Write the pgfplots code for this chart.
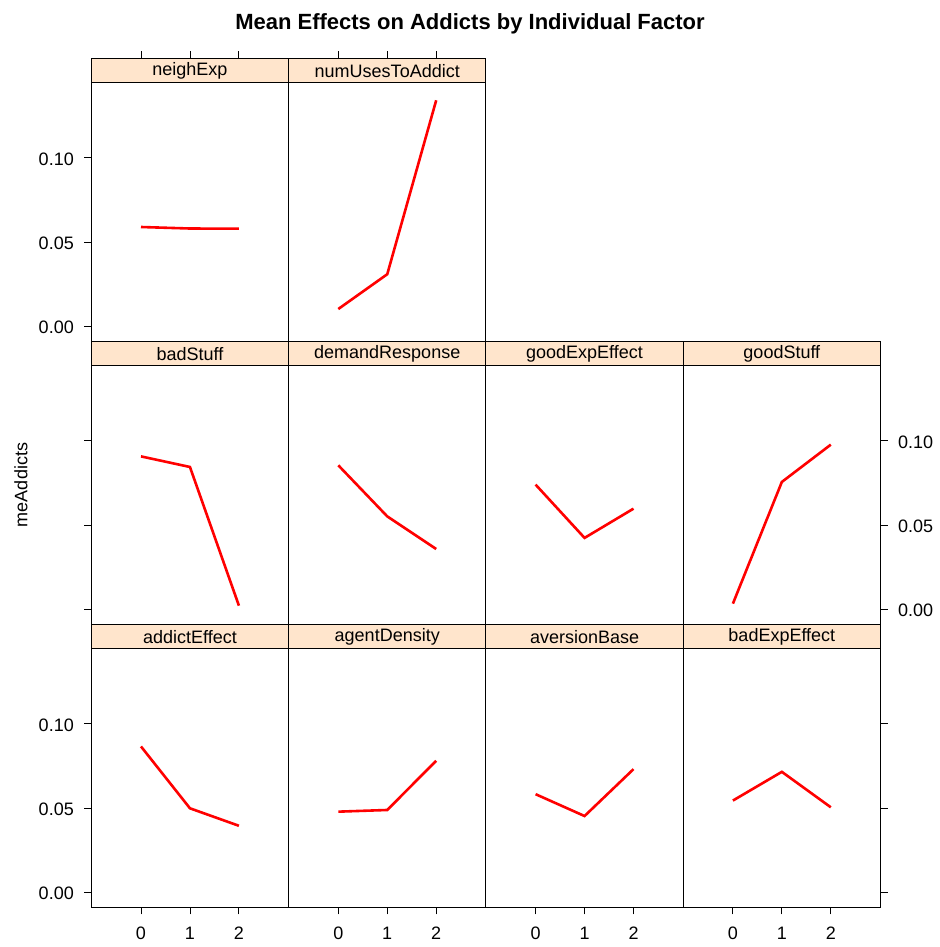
\documentclass[border=0pt]{standalone}
\usepackage{fontspec}
\setmainfont{Liberation Sans}
\usepackage{pgfplots}
\pgfplotsset{compat=1.18}
\definecolor{stripbg}{HTML}{FFE5CC}
\newcommand\lab{\fontsize{18bp}{20bp}\selectfont}
\newcommand\titlef{\fontsize{22bp}{24bp}\selectfont\bfseries}
\pgfplotsset{
  lat/.style={
    scale only axis, width=197.3bp, height=283bp, anchor=south west,
    xmin=-1.015, xmax=3.015, ymin=-0.0091, ymax=0.15928,
    xtick=\empty, ytick=\empty, clip=false, axis on top,
    axis line style={line width=0.9bp, black},
    every tick/.style={black, line width=0.9bp},
    major tick length=7bp, tick align=outside,
    tick label style={font=\lab, /pgf/number format/assume math mode=true},
    yticklabel style={/pgf/number format/fixed, /pgf/number format/fixed zerofill, /pgf/number format/precision=2},
    xticklabel style={yshift=-9bp},
  },
  yl/.style={ytick={0,0.05,0.1}, ytick pos=left, yticklabel style={xshift=-7bp, yshift=-1bp}},
  yr/.style={ytick={0,0.05,0.1}, ytick pos=right, yticklabel pos=right, yticklabel style={xshift=7bp, yshift=-1bp}},
  xb/.style={xtick={0,1,2}, xtick pos=left},
  xt/.style={xtick={0,1,2}, xtick pos=right, xticklabels={,,}},
}
\newcommand\panel[5]{%
\begin{axis}[lat, at={(#1bp,#2bp)}, #4]
\fill[stripbg] (rel axis cs:0,0.91519) rectangle (rel axis cs:1,1);
\draw[line width=0.9bp] (rel axis cs:0,0.91519) -- (rel axis cs:1,0.91519);
\node[font=\lab, inner sep=0pt] at (rel axis cs:0.5,0.9566) {#3};
\addplot[red, line width=2.6bp] coordinates {#5};
\end{axis}}
\begin{document}
\begin{tikzpicture}
\useasboundingbox (0,0) rectangle (940bp,947bp);
% row 1
\panel{91.3}{605.7}{neighExp}{yl, xt}{(0,0.0589) (1,0.0580) (2,0.0579)}
\panel{288.6}{605.7}{numUsesToAddict}{xt}{(0,0.0101) (1,0.0308) (2,0.1343)}
% row 2
\panel{91.3}{322.7}{badStuff}{yl, yticklabels={,,}}{(0,0.0908) (1,0.0845) (2,0.0020)}
\panel{288.6}{322.7}{demandResponse}{}{(0,0.0855) (1,0.0551) (2,0.0357)}
\panel{485.9}{322.7}{goodExpEffect}{}{(0,0.0740) (1,0.0423) (2,0.0597)}
\panel{683.2}{322.7}{goodStuff}{yr}{(0,0.0032) (1,0.0756) (2,0.0978)}
% row 3
\panel{91.3}{39.7}{addictEffect}{yl, xb}{(0,0.0866) (1,0.0498) (2,0.0394)}
\panel{288.6}{39.7}{agentDensity}{xb}{(0,0.0478) (1,0.0488) (2,0.0781)}
\panel{485.9}{39.7}{aversionBase}{xb}{(0,0.0582) (1,0.0452) (2,0.0731)}
\panel{683.2}{39.7}{badExpEffect}{xb, yr, yticklabels={,,}}{(0,0.0544) (1,0.0715) (2,0.0504)}
\node[font=\lab, rotate=90] at (21bp,462bp) {meAddicts};
\node[font=\titlef, anchor=base] at (470bp,917bp) {Mean Effects on Addicts by Individual Factor};
\end{tikzpicture}
\end{document}
